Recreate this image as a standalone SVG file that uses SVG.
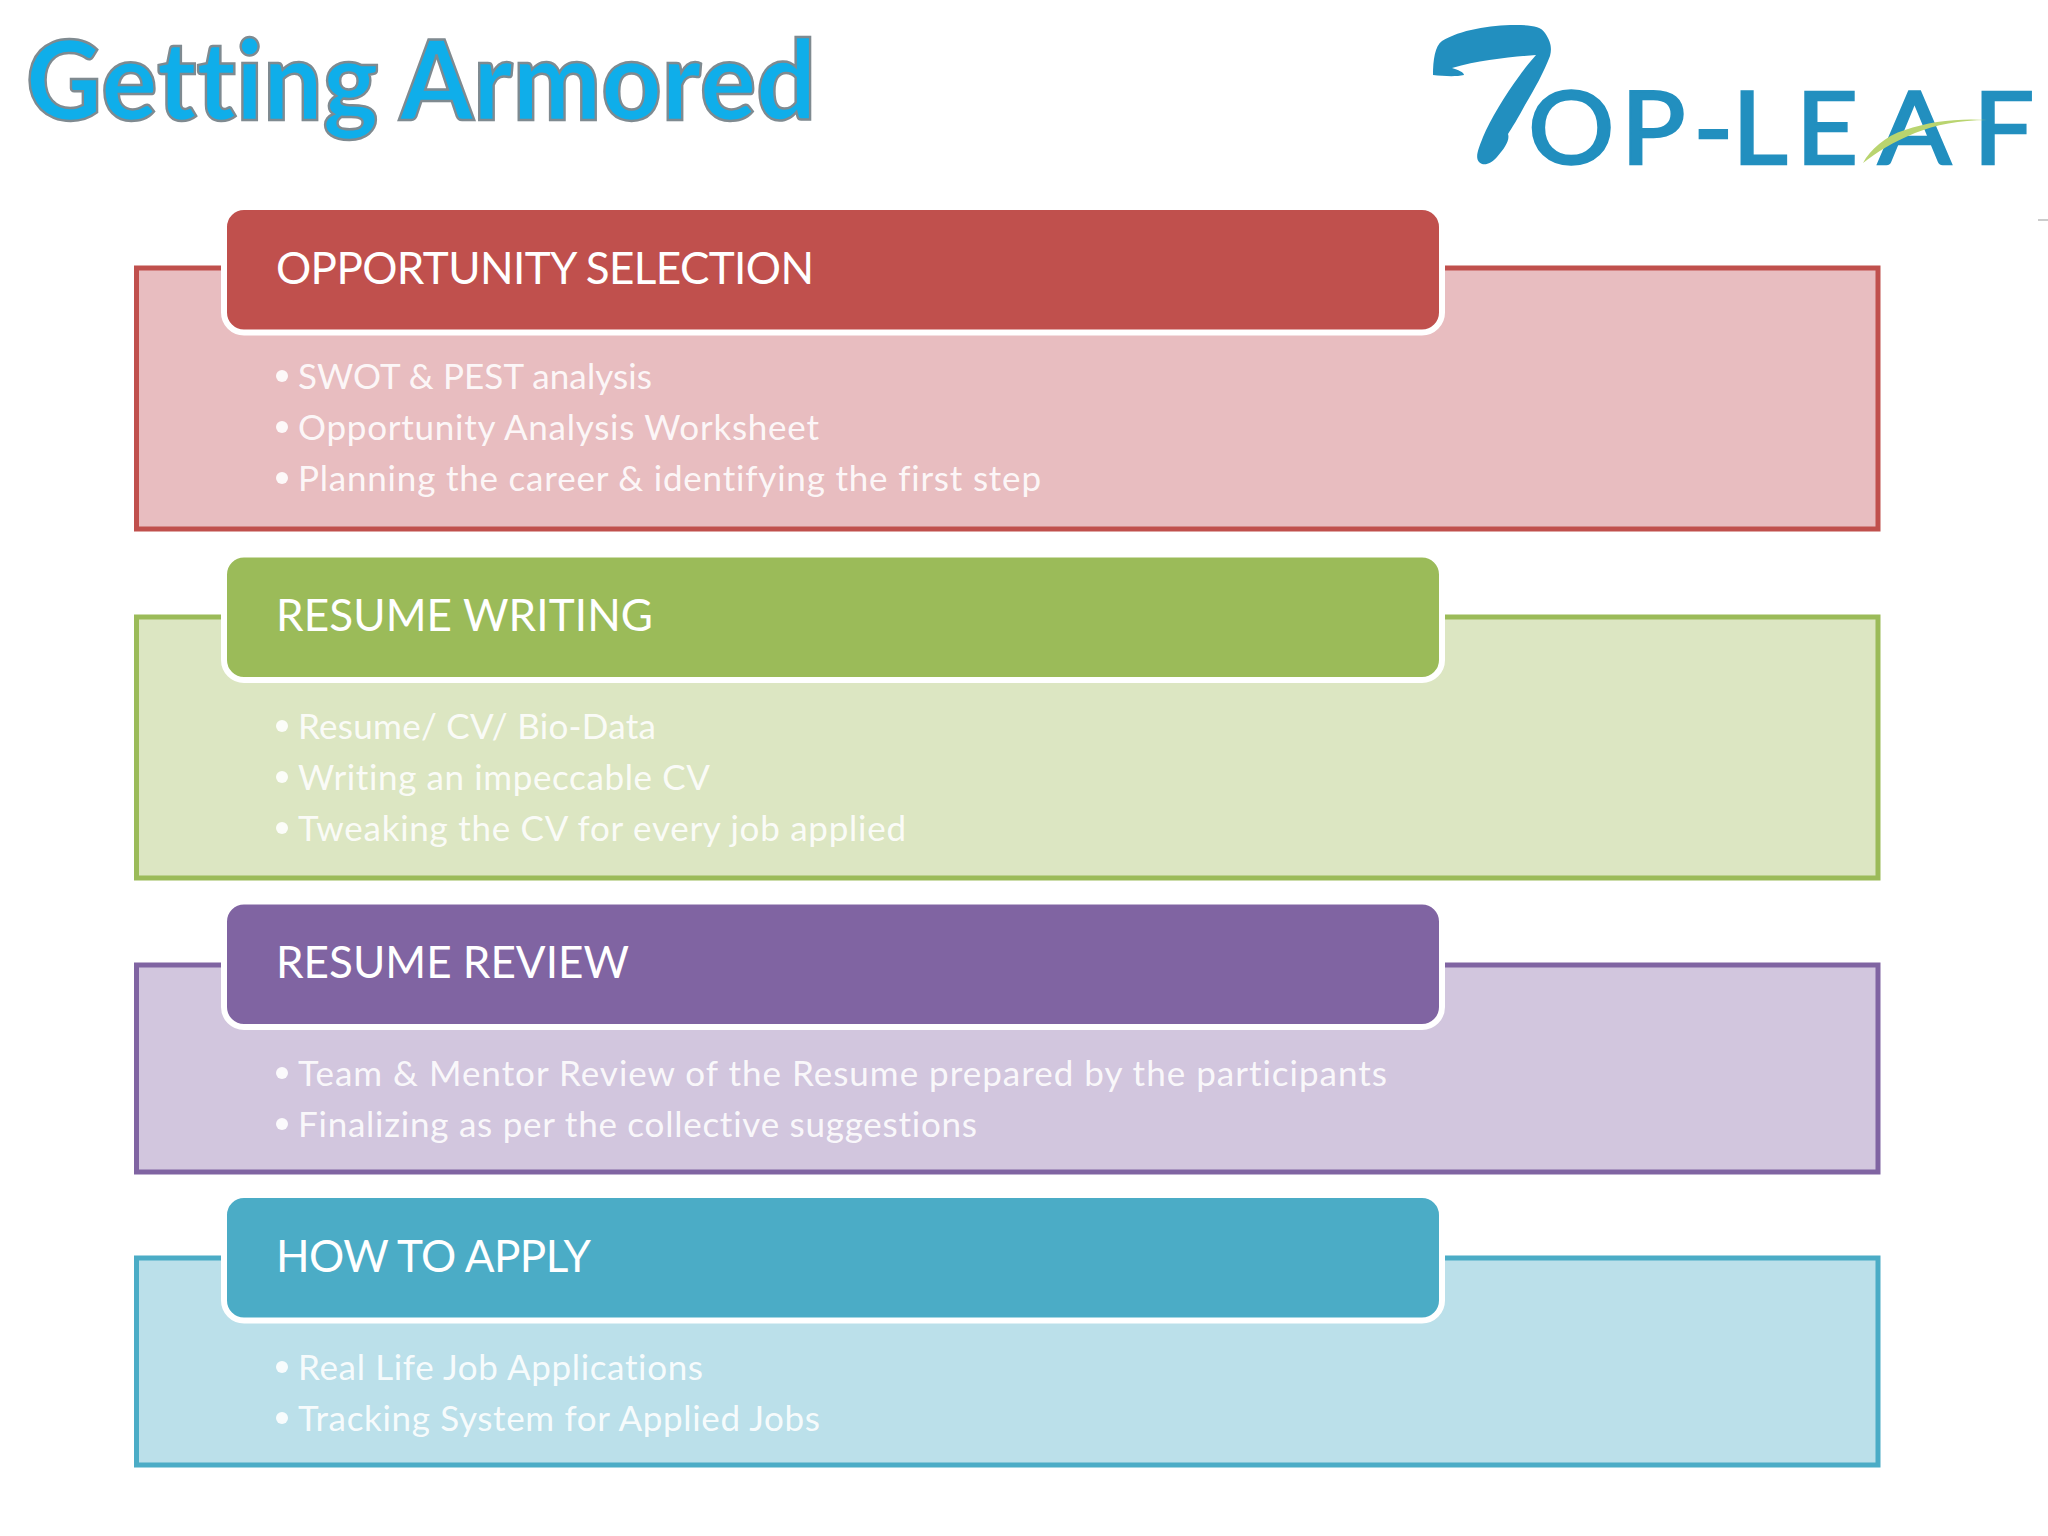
<svg xmlns="http://www.w3.org/2000/svg" width="2048" height="1536" viewBox="0 0 2048 1536">
<style>
text{font-family:"Lato","Open Sans","Liberation Sans",sans-serif;font-variant-ligatures:none}
.title{font-size:110px;font-weight:900;fill:#0FAEEA;stroke:#7F8A90;stroke-width:2.500px}
.logo{font-size:100px;fill:#228FBF;stroke:#228FBF;stroke-width:2.500px}
.head{font-size:44px;fill:#fff}
.item{font-size:35px;fill:#fff;fill-opacity:.9}
.hb{stroke:#fff;stroke-width:6}
.bb{stroke-width:5}
.bullet{fill:#fff;fill-opacity:.9}
.red .bb{fill:#E8BDC0;stroke:#C0504D}.red .hb{fill:#C0504D}
.green .bb{fill:#DCE6C2;stroke:#9BBB59}.green .hb{fill:#9BBB59}
.purple .bb{fill:#D2C6DE;stroke:#8064A2}.purple .hb{fill:#8064A2}
.blue .bb{fill:#BBE0EA;stroke:#4BACC6}.blue .hb{fill:#4BACC6}
</style>
<rect width="2048" height="1536" fill="#fff"/>
<g id="title"><text class="title" x="26" y="120" textLength="790" lengthAdjust="spacingAndGlyphs">Getting Armored</text></g>
<g id="logo">
<path fill="#228FBF" d="M1433 75C1433 60 1435 46 1442 41C1460 30 1490 25 1515 25C1530 25 1541 26 1545 33C1551 42 1552 48 1550 56C1544 72 1534 90 1525 105C1518 118 1512 128 1508 134C1510 140 1505 148 1497 157C1490 165 1483 166 1479 162C1475 157 1478 150 1483 137C1490 120 1505 95 1520 75C1527 65 1532 60 1536 55C1510 57 1480 60 1452 68C1458 70 1464 72 1464 75C1455 77 1443 76 1433 75Z"/>
<text class="logo" transform="translate(1528 164) scale(1.080 1)" x="0 86 153 189 248 324 412" y="0">OP-LEAF</text>
<path fill="#B9D46F" d="M1863 163C1870 150 1885 136 1905 130C1930 121 1960 118 1987 120C1960 120 1935 125 1915 133C1893 142 1877 152 1863 163Z"/>
<path stroke="#BBBBBB" stroke-width="1.500" d="M2038 220H2048"/>
</g>
<g id="opportunity-selection" class="red">
<rect class="bb" x="136.500" y="268" width="1741.500" height="261"/>
<rect class="hb" x="224" y="207" width="1218" height="125.500" rx="20"/>
<text class="head" x="276" y="284" textLength="538">OPPORTUNITY SELECTION</text>
<circle class="bullet" cx="282" cy="376" r="6"/><text class="item" x="298" y="389" textLength="354">SWOT &amp; PEST analysis</text>
<circle class="bullet" cx="282" cy="427" r="6"/><text class="item" x="298" y="440" textLength="521">Opportunity Analysis Worksheet</text>
<circle class="bullet" cx="282" cy="478" r="6"/><text class="item" x="298" y="491" textLength="743">Planning the career &amp; identifying the first step</text>
</g>
<g id="resume-writing" class="green">
<rect class="bb" x="136.500" y="617" width="1741.500" height="261"/>
<rect class="hb" x="224" y="554.500" width="1218" height="125.500" rx="20"/>
<text class="head" x="276" y="631" textLength="377">RESUME WRITING</text>
<circle class="bullet" cx="282" cy="726" r="6"/><text class="item" x="298" y="739" textLength="358">Resume/ CV/ Bio-Data</text>
<circle class="bullet" cx="282" cy="777" r="6"/><text class="item" x="298" y="790" textLength="412">Writing an impeccable CV</text>
<circle class="bullet" cx="282" cy="828" r="6"/><text class="item" x="298" y="841" textLength="608">Tweaking the CV for every job applied</text>
</g>
<g id="resume-review" class="purple">
<rect class="bb" x="136.500" y="965" width="1741.500" height="207"/>
<rect class="hb" x="224" y="901.500" width="1218" height="125.500" rx="20"/>
<text class="head" x="276" y="978" textLength="353">RESUME REVIEW</text>
<circle class="bullet" cx="282" cy="1073" r="6"/><text class="item" x="298" y="1086" textLength="1089">Team &amp; Mentor Review of the Resume prepared by the participants</text>
<circle class="bullet" cx="282" cy="1124" r="6"/><text class="item" x="298" y="1137" textLength="679">Finalizing as per the collective suggestions</text>
</g>
<g id="how-to-apply" class="blue">
<rect class="bb" x="136.500" y="1258" width="1741.500" height="207"/>
<rect class="hb" x="224" y="1195" width="1218" height="125.500" rx="20"/>
<text class="head" x="276" y="1272" textLength="315">HOW TO APPLY</text>
<circle class="bullet" cx="282" cy="1367" r="6"/><text class="item" x="298" y="1379.500" textLength="405">Real Life Job Applications</text>
<circle class="bullet" cx="282" cy="1418" r="6"/><text class="item" x="298" y="1430.500" textLength="522">Tracking System for Applied Jobs</text>
</g>
</svg>
